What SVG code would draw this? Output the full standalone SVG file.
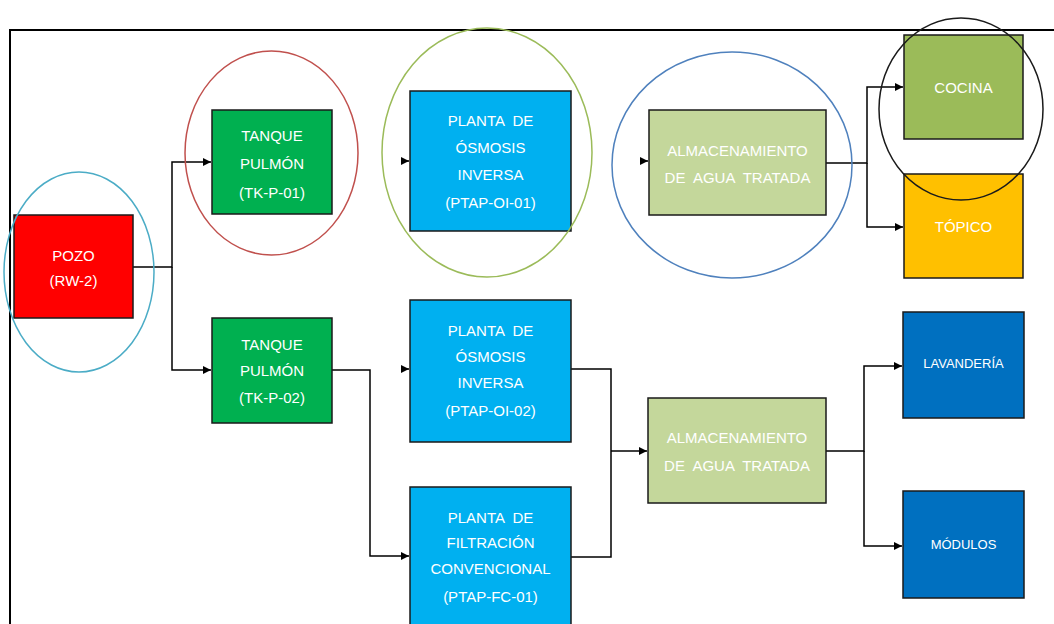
<svg xmlns="http://www.w3.org/2000/svg" width="1054" height="624" viewBox="0 0 1054 624">
<style>
.box{stroke:#1a1a1a;stroke-width:1.5}
.t{font-family:"Liberation Sans",Arial,sans-serif;font-size:15px;fill:#ffffff;text-anchor:middle;dominant-baseline:central;white-space:pre}
.c{fill:none;stroke:#000;stroke-width:1.5}
.ring{fill:none;stroke-width:1.5}
</style>
<defs>
<marker id="ah" viewBox="0 0 10 10" refX="10" refY="5" markerWidth="8" markerHeight="8" markerUnits="userSpaceOnUse" orient="auto">
<path d="M0,0 L10,5 L0,10 z" fill="#000"/>
</marker>
</defs>
<rect width="1054" height="624" fill="#fff"/>
<path d="M10,624 V30 H1054" fill="none" stroke="#000" stroke-width="2"/>

<g id="connectors">
<path class="c" d="M133,267 H172 V162 H211" marker-end="url(#ah)"/>
<path class="c" d="M172,267 V370 H211" marker-end="url(#ah)"/>
<path class="c" d="M402,161 H409" marker-end="url(#ah)"/>
<path class="c" d="M640,161 H648" marker-end="url(#ah)"/>
<path class="c" d="M826,163 H867 V87 H903" marker-end="url(#ah)"/>
<path class="c" d="M867,163 V227 H903" marker-end="url(#ah)"/>
<path class="c" d="M332,370 H370 V556 H409" marker-end="url(#ah)"/>
<path class="c" d="M402,369 H409" marker-end="url(#ah)"/>
<path class="c" d="M571,369 H611 V557 H571"/>
<path class="c" d="M611,451 H647" marker-end="url(#ah)"/>
<path class="c" d="M826,451 H864 V366 H902" marker-end="url(#ah)"/>
<path class="c" d="M864,451 V546 H902" marker-end="url(#ah)"/>
</g>

<g id="pozo">
<rect class="box" x="14" y="215" width="119" height="103" fill="#ff0000"/>
<text class="t" x="73.5" y="255">POZO</text>
<text class="t" x="73.5" y="280">(RW-2)</text>
</g>
<g id="tk-p-01">
<rect class="box" x="212" y="110" width="120" height="104" fill="#00b050"/>
<text class="t" x="272" y="135">TANQUE</text>
<text class="t" x="272" y="163">PULMÓN</text>
<text class="t" x="272" y="192">(TK-P-01)</text>
</g>
<g id="tk-p-02">
<rect class="box" x="212" y="318" width="120" height="105" fill="#00b050"/>
<text class="t" x="272" y="344">TANQUE</text>
<text class="t" x="272" y="370">PULMÓN</text>
<text class="t" x="272" y="397">(TK-P-02)</text>
</g>
<g id="ptap-oi-01">
<rect class="box" x="410" y="91" width="161" height="140" fill="#00b0f0"/>
<text class="t" x="490.5" y="120">PLANTA  DE</text>
<text class="t" x="490.5" y="147">ÓSMOSIS</text>
<text class="t" x="490.5" y="174">INVERSA</text>
<text class="t" x="490.5" y="202">(PTAP-OI-01)</text>
</g>
<g id="ptap-oi-02">
<rect class="box" x="410" y="300" width="161" height="142" fill="#00b0f0"/>
<text class="t" x="490.5" y="330">PLANTA  DE</text>
<text class="t" x="490.5" y="356">ÓSMOSIS</text>
<text class="t" x="490.5" y="382">INVERSA</text>
<text class="t" x="490.5" y="410">(PTAP-OI-02)</text>
</g>
<g id="ptap-fc-01">
<rect class="box" x="410" y="487" width="161" height="150" fill="#00b0f0"/>
<text class="t" x="490.5" y="517">PLANTA  DE</text>
<text class="t" x="490.5" y="542">FILTRACIÓN</text>
<text class="t" x="490.5" y="568">CONVENCIONAL</text>
<text class="t" x="490.5" y="596">(PTAP-FC-01)</text>
</g>
<g id="almacenamiento-1">
<rect class="box" x="649" y="110" width="177" height="105" fill="#c4d79b"/>
<text class="t" x="737.5" y="150">ALMACENAMIENTO</text>
<text class="t" x="737.5" y="177">DE  AGUA  TRATADA</text>
</g>
<g id="almacenamiento-2">
<rect class="box" x="648" y="398" width="178" height="105" fill="#c4d79b"/>
<text class="t" x="737" y="437">ALMACENAMIENTO</text>
<text class="t" x="737" y="465">DE  AGUA  TRATADA</text>
</g>
<g id="cocina">
<rect class="box" x="904" y="35" width="119" height="104" fill="#9bbb59"/>
<text class="t" x="963.5" y="87">COCINA</text>
</g>
<g id="topico">
<rect class="box" x="904" y="174" width="119" height="104" fill="#ffc000"/>
<text class="t" x="963.5" y="226">TÓPICO</text>
</g>
<g id="lavanderia">
<rect class="box" x="903" y="312" width="121" height="106" fill="#0070c0"/>
<text class="t" x="963.5" y="363" style="font-size:13px">LAVANDERÍA</text>
</g>
<g id="modulos">
<rect class="box" x="903" y="491" width="121" height="107" fill="#0070c0"/>
<text class="t" x="963.5" y="544" style="font-size:13px">MÓDULOS</text>
</g>

<g id="highlights">
<ellipse class="ring" cx="79" cy="272" rx="75" ry="100" stroke="#4bacc6"/>
<ellipse class="ring" cx="271.5" cy="153" rx="86.5" ry="102" stroke="#c0504d"/>
<ellipse class="ring" cx="487" cy="152.5" rx="105" ry="124.5" stroke="#9bbb59"/>
<ellipse class="ring" cx="732" cy="165" rx="120" ry="113" stroke="#4f81bd"/>
<ellipse class="ring" cx="961" cy="109" rx="82" ry="91" stroke="#1a1a1a"/>
</g>
</svg>
